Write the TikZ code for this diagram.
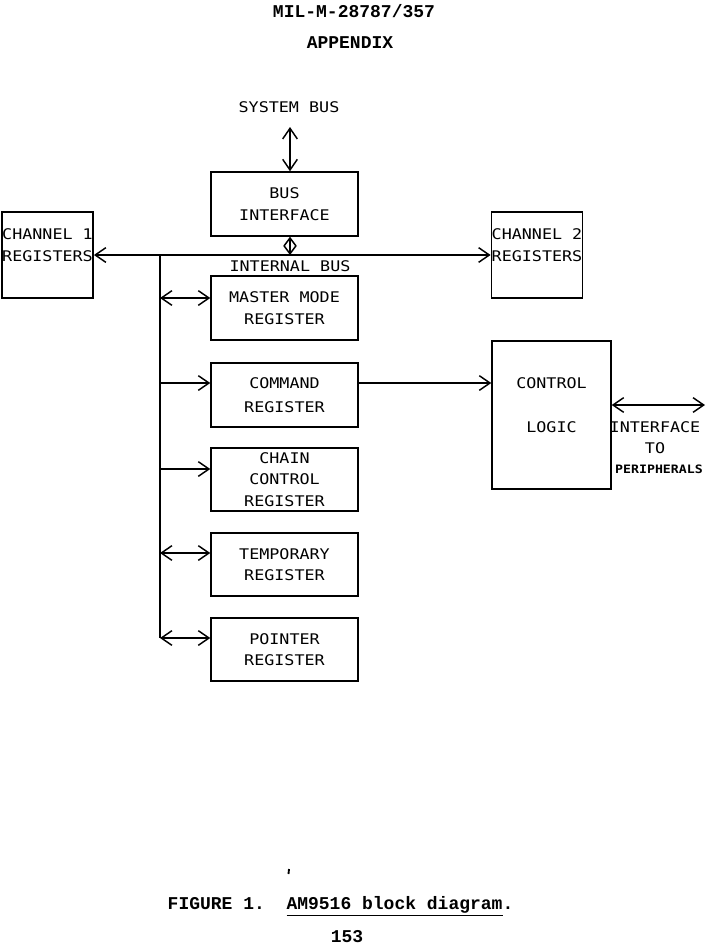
\documentclass[tikz,border=0pt]{standalone}
\usepackage{fontspec}
\usetikzlibrary{arrows.meta}
\newfontfamily\plotfont[FakeStretch=1.14]{DejaVu Sans Mono}
\newfontfamily\typefont{Liberation Mono}
\begin{document}
\begin{tikzpicture}[x=0.75pt,y=-0.75pt,line width=1.1pt,
  >={Straight Barb[length=8pt,width=11pt]},
  box/.style={draw,inner sep=0pt,align=center,minimum width=110.25pt,minimum height=48pt,
    font=\plotfont\fontsize{11}{16}\selectfont},
  chbox/.style={draw,inner sep=0pt,minimum width=68.5pt,minimum height=64.5pt},
  lbl/.style={inner sep=0pt,align=center,font=\plotfont\fontsize{11}{16.5}\selectfont},
  small/.style={inner sep=0pt,font=\plotfont\bfseries\fontsize{8.7}{10}\selectfont},
  doc/.style={inner sep=0pt,font=\typefont\bfseries\fontsize{13.5}{16}\selectfont}]
\useasboundingbox (0,0) rectangle (707,947);

% header
\node[doc] (hdr) at (354,11) {MIL-M-28787/357};
\node[doc] (app) at (350,43) {APPENDIX};

% boxes
\node[box] (busif) at (284.5,204) {BUS\\INTERFACE};
\node[box] (master) at (284.5,308) {MASTER MODE\\REGISTER};
\node[box] (cmd) at (284.5,395) {COMMAND\\[1.5pt]REGISTER};
\node[box,minimum height=47.25pt] (chain) at (284.5,479.5) {CHAIN\\CONTROL\\REGISTER};
\node[box,minimum height=47.25pt] (temp) at (284.5,564.5) {TEMPORARY\\REGISTER};
\node[box,minimum height=47.25pt] (ptr) at (284.5,649.5) {POINTER\\REGISTER};
\node[chbox] (ch1) at (47.5,255) {};
\node[lbl] (ch1t) at (47.5,245) {CHANNEL 1\\REGISTERS};
\node[chbox] (ch2) at (537,255) {};
\node[lbl] (ch2t) at (537,245) {CHANNEL 2\\REGISTERS};
\node[draw,inner sep=0pt,minimum width=89.25pt,minimum height=111pt] (ctrl) at (551.5,415) {};
\node[lbl,font=\plotfont\fontsize{11}{33}\selectfont] (ctrlt) at (551.5,405) {CONTROL\\LOGIC};

% labels
\node[lbl] (sysbus) at (289,107) {SYSTEM BUS};
\node[lbl] (intbus) at (290,266) {INTERNAL BUS};
\node[lbl] (intf) at (655,427) {INTERFACE};
\node[lbl] (to) at (655,448) {TO};
\node[small] (peri) at (659,469) {PERIPHERALS};

% coordinates
\coordinate (sbtop) at (290,127);
\coordinate (bj) at (160,255);
\coordinate (bbot) at (160,638);
\coordinate (am) at (160,298);
\coordinate (ac) at (160,383);
\coordinate (ach) at (160,469);
\coordinate (at) at (160,553);
\coordinate (per) at (705,405);

% connectors
\draw[<->] (sbtop) -- (busif.north -| sbtop);
\draw[<->,>={Straight Barb[length=6pt,width=9pt]}] (busif.south -| sbtop) -- (sbtop |- bj);
\draw[<->] (ch1.east) -- (ch2.west);
\draw (bj) -- (bbot);
\draw[<->] (am) -- (master.west |- am);
\draw[->] (ac) -- (cmd.west |- ac);
\draw[->] (ach) -- (chain.west |- ach);
\draw[<->] (at) -- (temp.west |- at);
\draw[<->] (bbot) -- (ptr.west |- bbot);
\draw[->] (cmd.east |- ac) -- (ctrl.west |- ac);
\draw[<->] (ctrl.east |- per) -- (per);

% stray mark
\draw[line width=1.4pt] (289,869) -- (288.5,874);

% caption
\node[doc,anchor=west] (cap) at (167,906) {\frenchspacing FIGURE 1.\ \ \underline{AM9516 block diagram}.};
\node[doc] (pg) at (347,937) {153};
\end{tikzpicture}
\end{document}
